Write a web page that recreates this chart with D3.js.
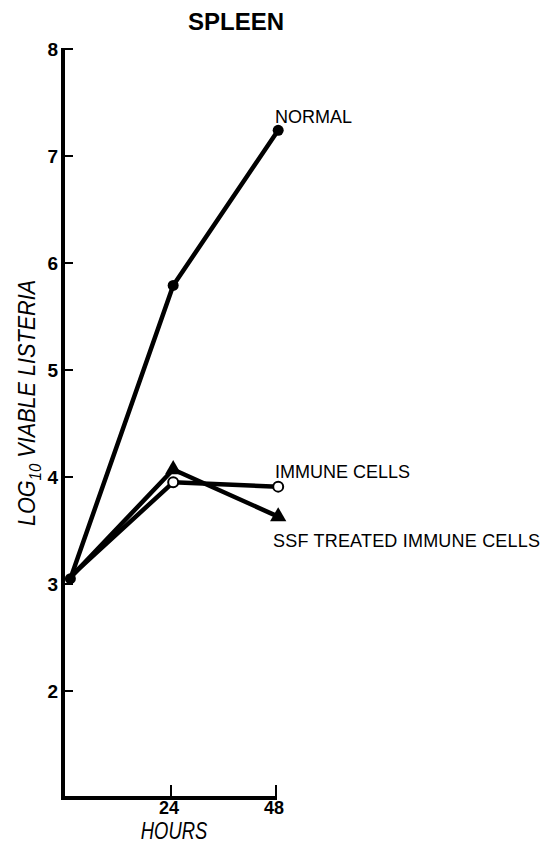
<!DOCTYPE html>
<html>
<head>
<meta charset="utf-8">
<script src="https://cdn.jsdelivr.net/npm/d3@7"></script>
<style>
  body { margin: 0; background: #fff; }
  text { font-family: "Liberation Sans", Arial, sans-serif; fill: #000; }
</style>
</head>
<body>
<div id="chart"></div>
<script>
var hours = [1, 24.5, 48.5];
var normal = [3.05, 5.79, 7.24];
var immune = [3.07, 3.95, 3.91];
var ssf = [3.06, 4.07, 3.63];
var yTicks = [2, 3, 4, 5, 6, 7, 8];
var xTicks = [24, 48];

var width = 542, height = 843;

var x = d3.scaleLinear().domain([0, 48]).range([66, 276]);
var y = d3.scaleLinear().domain([1, 8]).range([798, 49]);

var svg = d3.select("#chart").append("svg")
    .attr("width", width)
    .attr("height", height);

// axes
svg.append("line")
    .attr("x1", 63).attr("x2", 63)
    .attr("y1", y(8) - 1).attr("y2", y(1) + 2)
    .attr("stroke", "#000").attr("stroke-width", 4);
svg.append("line")
    .attr("x1", 61).attr("x2", x(48) + 1)
    .attr("y1", y(1)).attr("y2", y(1))
    .attr("stroke", "#000").attr("stroke-width", 4);

svg.selectAll(".ytick")
    .data(yTicks)
    .enter().append("line")
    .attr("x1", 63).attr("x2", 73)
    .attr("y1", function(d) { return y(d); })
    .attr("y2", function(d) { return y(d); })
    .attr("stroke", "#000").attr("stroke-width", 2);

svg.selectAll(".ylab")
    .data(yTicks)
    .enter().append("text")
    .attr("x", 58)
    .attr("y", function(d) { return y(d) + 7; })
    .attr("text-anchor", "end")
    .style("font-size", "19px")
    .style("font-weight", "bold")
    .text(function(d) { return d; });

svg.selectAll(".xtick")
    .data(xTicks)
    .enter().append("line")
    .attr("x1", function(d) { return x(d); })
    .attr("x2", function(d) { return x(d); })
    .attr("y1", y(1)).attr("y2", y(1) - 13)
    .attr("stroke", "#000").attr("stroke-width", 2);

svg.selectAll(".xlab")
    .data(xTicks)
    .enter().append("text")
    .attr("x", function(d) { return x(d) - 2; })
    .attr("y", 814)
    .attr("text-anchor", "middle")
    .style("font-size", "18px")
    .style("font-weight", "bold")
    .text(function(d) { return d; });

// axis titles
svg.append("text")
    .attr("transform", "translate(174,839) scale(0.8,1)")
    .attr("text-anchor", "middle")
    .style("font-size", "23px")
    .style("font-style", "italic")
    .text("HOURS");

var ylab = svg.append("text")
    .attr("transform", "translate(35,403) rotate(-90) scale(0.94,1)")
    .attr("text-anchor", "middle")
    .style("font-size", "23px")
    .style("font-style", "italic");
ylab.append("tspan").text("LOG");
ylab.append("tspan").attr("dy", 6).style("font-size", "16px").text("10");
ylab.append("tspan").attr("dy", -6).text(" VIABLE LISTERIA");

svg.append("text")
    .attr("x", 236).attr("y", 30)
    .attr("text-anchor", "middle")
    .style("font-size", "24px")
    .style("font-weight", "bold")
    .text("SPLEEN");

// lines
var line = d3.line()
    .x(function(d, i) { return x(hours[i]); })
    .y(function(d) { return y(d); });

[normal, immune, ssf].forEach(function(s) {
    svg.append("path")
        .datum(s)
        .attr("d", line)
        .attr("fill", "none")
        .attr("stroke", "#000")
        .attr("stroke-width", 4.5)
        .attr("stroke-linejoin", "round");
});

// markers
svg.selectAll(".normal")
    .data(normal)
    .enter().append("circle")
    .attr("cx", function(d, i) { return x(hours[i]); })
    .attr("cy", function(d) { return y(d); })
    .attr("r", 5.5)
    .attr("fill", "#000");

svg.selectAll(".ssf")
    .data(ssf.slice(1))
    .enter().append("path")
    .attr("d", d3.symbol().type(d3.symbolTriangle).size(115))
    .attr("transform", function(d, i) {
        return "translate(" + x(hours[i + 1]) + "," + y(d) + ")";
    })
    .attr("fill", "#000");

svg.selectAll(".immune")
    .data(immune.slice(1))
    .enter().append("circle")
    .attr("cx", function(d, i) { return x(hours[i + 1]); })
    .attr("cy", function(d) { return y(d); })
    .attr("r", 5)
    .attr("fill", "#fff")
    .attr("stroke", "#000")
    .attr("stroke-width", 2);

// series labels
svg.append("text").attr("x", 275).attr("y", 123)
    .style("font-size", "18px").text("NORMAL");
svg.append("text").attr("x", 275).attr("y", 478)
    .style("font-size", "18px").text("IMMUNE CELLS");
svg.append("text").attr("x", 273).attr("y", 547)
    .style("font-size", "18px").style("letter-spacing", "0.2px")
    .text("SSF TREATED IMMUNE CELLS");
</script>
</body>
</html>
